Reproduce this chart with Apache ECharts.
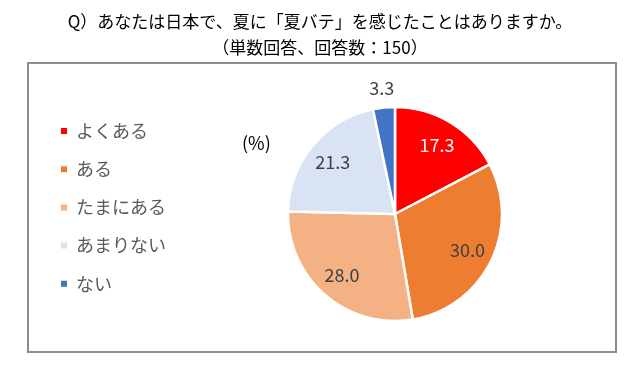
<!DOCTYPE html>
<html>
<head>
<meta charset="utf-8">
<script src="https://cdn.jsdelivr.net/npm/echarts@6/dist/echarts.min.js"></script>
<style>html,body{margin:0;padding:0;background:#fff}#c{width:640px;height:367px}</style>
</head>
<body>
<div id="c"></div>
<script>
const titleText = 'Q）あなたは日本で、夏に「夏バテ」を感じたことはありますか。\n（単数回答、回答数：150）';
const categories = ['よくある', 'ある', 'たまにある', 'あまりない', 'ない'];
const values = [17.3, 30.0, 28.0, 21.3, 3.3];
const colors = ['#FF0000', '#ED7D31', '#F4B183', '#DAE3F3', '#4472C4'];
const labelColors = ['#FFFFFF', '#404040', '#404040', '#404040', '#404040'];
const outsideLabel = [false, false, false, false, true];
const unitText = '(%)';

const FONT = '"Noto Sans CJK JP", "Noto Sans", sans-serif';

const chart = echarts.init(document.getElementById('c'), null, {renderer: 'canvas'});
const fmt = v => v.toFixed(1);

const option = {
  animation: false,
  color: colors,
  title: {
    text: titleText,
    left: 'center',
    top: 4,
    textStyle: {fontFamily: FONT, fontSize: 17, fontWeight: 'normal', color: '#000', lineHeight: 26, align: 'center'}
  },
  graphic: [
    {type: 'rect', shape: {x: 28, y: 63, width: 588, height: 289}, style: {fill: 'none', stroke: '#8c8c8c', lineWidth: 2}, silent: true},
    {type: 'text', left: 242, top: 134, style: {text: unitText, font: '18px ' + FONT, fill: '#000'}, silent: true}
  ],
  legend: {
    orient: 'vertical',
    left: 54,
    top: 116,
    icon: 'rect',
    itemWidth: 8,
    itemHeight: 8,
    itemGap: 18.2,
    selectedMode: false,
    data: categories,
    textStyle: {fontFamily: FONT, fontSize: 18, color: '#595959', lineHeight: 20, padding: [0, 0, 0, 3]}
  },
  series: [
    {
      type: 'pie',
      center: [395, 214],
      radius: [0, 107],
      startAngle: 90,
      clockwise: true,
      silent: true,
      label: {show: false},
      labelLine: {show: false},
      emphasis: {disabled: true},
      itemStyle: {borderColor: '#fff', borderWidth: 2.5},
      data: categories.map((c, i) => ({name: c, value: values[i]}))
    },
    {
      type: 'pie',
      center: [395, 214],
      radius: [49, 107],
      startAngle: 90,
      clockwise: true,
      silent: true,
      emphasis: {disabled: true},
      labelLine: {show: false},
      itemStyle: {color: 'rgba(0,0,0,0)'},
      data: categories.map((c, i) => ({
        name: c, value: values[i],
        label: {show: !outsideLabel[i], position: 'inside', formatter: fmt(values[i]), color: labelColors[i], fontFamily: FONT, fontSize: 18}
      }))
    },
    {
      type: 'pie',
      center: [395, 214],
      radius: [117, 131],
      startAngle: 90,
      clockwise: true,
      silent: true,
      emphasis: {disabled: true},
      labelLine: {show: false},
      itemStyle: {color: 'rgba(0,0,0,0)'},
      data: categories.map((c, i) => ({
        name: c, value: values[i],
        label: {show: outsideLabel[i], position: 'inside', formatter: fmt(values[i]), color: labelColors[i], fontFamily: FONT, fontSize: 18}
      }))
    }
  ]
};
chart.setOption(option);
</script>
</body>
</html>
